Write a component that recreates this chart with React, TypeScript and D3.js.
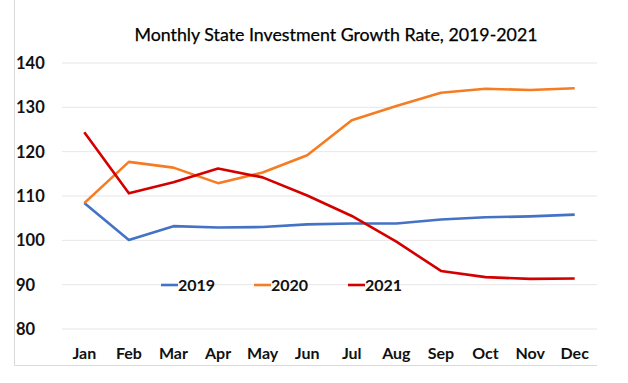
import React from "react";
import * as d3 from "d3";

const months = ["Jan", "Feb", "Mar", "Apr", "May", "Jun", "Jul", "Aug", "Sep", "Oct", "Nov", "Dec"];
const s2019 = [108.4, 100.1, 103.2, 102.9, 103.0, 103.6, 103.8, 103.8, 104.7, 105.2, 105.4, 105.8];
const s2020 = [108.4, 117.7, 116.4, 112.9, 115.3, 119.2, 127.1, 130.3, 133.3, 134.2, 133.9, 134.3];
const s2021 = [124.4, 110.6, 113.1, 116.2, 114.2, 110.1, 105.5, 99.7, 93.1, 91.7, 91.3, 91.4];
const yTicks = [80, 90, 100, 110, 120, 130, 140];
const seriesNames = ["2019", "2020", "2021"];
const colors = ["#4472C4", "#F57C22", "#D40000"];

export default function App() {
  const W = 628, H = 383;
  const left = 62, right = 597;
  const x = d3.scaleBand<string>().domain(months).range([left, right]);
  const y = d3.scaleLinear().domain([80, 140]).range([329, 63]);
  const xc = (m: string) => (x(m) as number) + x.bandwidth() / 2;
  const line = d3.line<number>().x((_, i) => xc(months[i])).y((d) => y(d));
  const all = [s2019, s2020, s2021];
  const font = "Lato, 'Open Sans', sans-serif";
  const legendX = [161, 254, 348];

  return (
    <svg width={W} height={H} style={{ position: "absolute", left: 0, top: 0, background: "#fff" }} fontFamily={font}>
      <rect width={W} height={H} fill="#fff" />
      <line x1={14.5} y1={0} x2={14.5} y2={365.5} stroke="#d9d9d9" />
      <line x1={14.5} y1={365.5} x2={597} y2={365.5} stroke="#d9d9d9" />
      <text x={336} y={41} textAnchor="middle" fontSize={17.8} fill="#000" stroke="#000" strokeWidth={0.25}>
        Monthly State Investment Growth Rate, 2019-2021
      </text>
      {yTicks.map((t) => (
        <g key={t}>
          <line x1={left} x2={right} y1={y(t)} y2={y(t)} stroke="#e6e6e6" strokeWidth={1} />
          <text x={16} y={y(t) + 6} fontSize={16.5} fontWeight="bold" fill="#111">
            {t}
          </text>
        </g>
      ))}
      {months.map((m) => (
        <text key={m} x={xc(m)} y={359} textAnchor="middle" fontSize={16} fontWeight="bold" fill="#111">
          {m}
        </text>
      ))}
      {all.map((s, i) => (
        <path key={i} d={line(s) as string} fill="none" stroke={colors[i]} strokeWidth={2.6} strokeLinejoin="round" />
      ))}
      {seriesNames.map((n, i) => (
        <g key={n}>
          <line x1={legendX[i]} x2={legendX[i] + 17} y1={285} y2={285} stroke={colors[i]} strokeWidth={2.6} />
          <text x={legendX[i] + 17} y={291} fontSize={16} fontWeight="bold" fill="#111">
            {n}
          </text>
        </g>
      ))}
    </svg>
  );
}
